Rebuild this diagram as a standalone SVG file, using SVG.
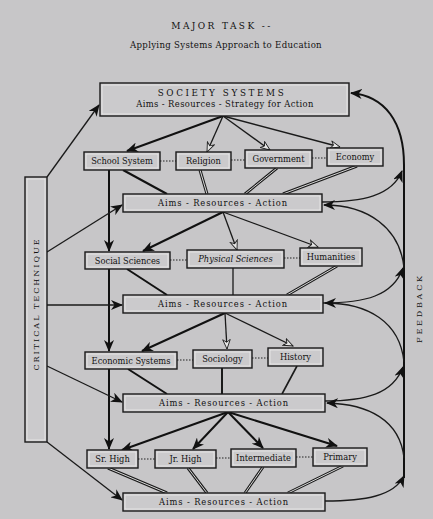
<svg xmlns="http://www.w3.org/2000/svg" width="433" height="519" viewBox="0 0 433 519">
<defs>
<style>
.bg{fill:#c7c6c8}
.box{fill:#cbcacc;stroke:#1a1a1a;stroke-width:1.4}
.inner{fill:none;stroke:#ececec;stroke-width:0.8}
.t{font-family:"DejaVu Serif","Liberation Serif",serif;font-size:8.3px;fill:#111;text-anchor:middle}
.ln{fill:none;stroke:#1a1a1a;stroke-width:1.3}
.thk{fill:none;stroke:#111;stroke-width:2}
.dot{fill:none;stroke:#222;stroke-width:1.1;stroke-dasharray:1.5,1.5}
.dblo{fill:none;stroke:#1a1a1a;stroke-width:3}
.dbli{fill:none;stroke:#d8d8d8;stroke-width:1}
.arr{font-size:8.3px;letter-spacing:0.9px}
</style>
<marker id="blk" viewBox="0 0 12 10" refX="11" refY="5" markerWidth="12" markerHeight="10" markerUnits="userSpaceOnUse" orient="auto">
<path d="M0,0 L12,5 L0,10 L3.5,5 z" fill="#111"/>
</marker>
<marker id="opn" viewBox="0 0 12 10" refX="11" refY="5" markerWidth="11" markerHeight="9" markerUnits="userSpaceOnUse" orient="auto">
<path d="M0.5,0.8 L11,5 L0.5,9.2 L3.5,5 z" fill="#e6e6e6" stroke="#222" stroke-width="1"/>
</marker>
</defs>
<rect class="bg" x="0" y="0" width="433" height="519"/>

<g id="title">
<text class="t" x="222" y="29" style="font-size:9px;letter-spacing:2.4px">MAJOR TASK --</text>
<text class="t" x="226" y="48" style="font-size:8.6px;letter-spacing:0.3px">Applying Systems Approach to Education</text>
</g>

<g id="connectors">
<path class="thk" d="M223,116 L127,151" marker-end="url(#blk)"/>
<path class="ln" d="M223,116 L207,152" marker-end="url(#opn)"/>
<path class="ln" d="M223,116 L270,150" marker-end="url(#opn)"/>
<path class="ln" d="M223,116 L340,147" marker-end="url(#opn)"/>
<path class="dot" d="M160,161 L176,161 M231,160 L245,160 M312,158 L327,158"/>
<path class="thk" d="M123,170 L167,194"/>
<path class="dblo" d="M200,170 L207,194"/><path class="dbli" d="M200,170 L207,194"/>
<path class="dblo" d="M277,168 L245,194"/><path class="dbli" d="M277,168 L245,194"/>
<path class="dblo" d="M357,166 L283,194"/><path class="dbli" d="M357,166 L283,194"/>
<path class="thk" d="M223,212 L143,251" marker-end="url(#blk)"/>
<path class="ln" d="M223,212 L237,250" marker-end="url(#opn)"/>
<path class="ln" d="M223,212 L318,247" marker-end="url(#opn)"/>
<path class="dot" d="M170,260 L187,260 M284,258 L300,258"/>
<path class="thk" d="M127,269 L167,295"/>
<path class="ln" d="M233,268 L233,295"/>
<path class="dblo" d="M337,266 L287,295"/><path class="dbli" d="M337,266 L287,295"/>
<path class="thk" d="M225,313 L142,351" marker-end="url(#blk)"/>
<path class="ln" d="M225,313 L227,349" marker-end="url(#opn)"/>
<path class="ln" d="M225,313 L293,346" marker-end="url(#opn)"/>
<path class="dot" d="M177,360 L193,360 M252,358 L268,358"/>
<path class="thk" d="M128,369 L167,394"/>
<path class="ln" d="M222,368 L222,394" style="stroke-width:2"/>
<path class="ln" d="M297,366 L282,394" style="stroke-width:1.6"/>
<path class="thk" d="M228,412 L122,450" marker-end="url(#blk)"/>
<path class="thk" d="M228,412 L193,449" marker-end="url(#blk)"/>
<path class="thk" d="M228,412 L263,448" marker-end="url(#blk)"/>
<path class="thk" d="M228,412 L337,446" marker-end="url(#blk)"/>
<path class="dot" d="M138,459 L155,459 M216,458 L231,458 M296,457 L313,457"/>
<path class="dblo" d="M108,468 L167,493"/><path class="dbli" d="M108,468 L167,493"/>
<path class="dblo" d="M188,468 L207,493"/><path class="dbli" d="M188,468 L207,493"/>
<path class="dblo" d="M263,467 L245,493"/><path class="dbli" d="M263,467 L245,493"/>
<path class="dblo" d="M343,466 L288,493"/><path class="dbli" d="M343,466 L288,493"/>
<path class="thk" d="M109,170 L109,251" marker-end="url(#blk)"/>
<path class="thk" d="M109,269 L109,351" marker-end="url(#blk)"/>
<path class="thk" d="M109,369 L109,449" marker-end="url(#blk)"/>
<path class="ln" d="M47,177 L99,105" marker-end="url(#blk)"/>
<path class="ln" d="M47,252 L122,205" marker-end="url(#blk)"/>
<path class="ln" d="M47,305 L122,305" marker-end="url(#blk)"/>
<path class="ln" d="M47,366 L122,402" marker-end="url(#blk)"/>
<path class="ln" d="M47,442 L122,500" marker-end="url(#blk)"/>
<path class="thk" d="M404,478 L404,165 C404,122 385,96 351,93" marker-end="url(#blk)"/>
<path class="ln" d="M322,202 C362,202 392,196 402,171" marker-end="url(#blk)"/>
<path class="ln" d="M404,268 C400,228 368,205 324,205" marker-end="url(#blk)"/>
<path class="ln" d="M323,303 C365,303 393,296 403,268" marker-end="url(#blk)"/>
<path class="ln" d="M404,362 C400,322 368,303 325,303" marker-end="url(#blk)"/>
<path class="ln" d="M325,401 C365,401 393,394 403,367" marker-end="url(#blk)"/>
<path class="ln" d="M404,458 C400,420 368,404 327,403" marker-end="url(#blk)"/>
<path class="ln" d="M325,501 C365,501 394,496 404,476" marker-end="url(#blk)"/>
</g>

<g id="society">
<rect class="box" x="100" y="83" width="249" height="33"/>
<rect class="inner" x="102" y="85" width="245" height="29"/>
<text class="t" x="222" y="96" style="font-size:8.8px;letter-spacing:2.6px">SOCIETY SYSTEMS</text>
<text class="t" x="225" y="107" style="font-size:8.4px;letter-spacing:0.4px">Aims - Resources - Strategy for Action</text>
</g>

<g id="school-system"><rect class="box" x="84" y="152" width="76" height="18"/><rect class="inner" x="86" y="154" width="72" height="14"/><text class="t" x="122" y="164">School System</text></g>
<g id="religion"><rect class="box" x="176" y="152" width="55" height="18"/><rect class="inner" x="178" y="154" width="51" height="14"/><text class="t" x="203.5" y="164">Religion</text></g>
<g id="government"><rect class="box" x="245" y="150" width="67" height="18"/><rect class="inner" x="247" y="152" width="63" height="14"/><text class="t" x="278.5" y="162">Government</text></g>
<g id="economy"><rect class="box" x="327" y="148" width="56" height="18"/><rect class="inner" x="329" y="150" width="52" height="14"/><text class="t" x="355" y="160">Economy</text></g>

<g id="aims1"><rect class="box" x="123" y="194" width="199" height="18"/><rect class="inner" x="125" y="196" width="195" height="14"/><text class="t arr" x="223" y="206">Aims - Resources - Action</text></g>

<g id="social-sciences"><rect class="box" x="85" y="252" width="85" height="17"/><rect class="inner" x="87" y="254" width="81" height="13"/><text class="t" x="127.5" y="263.5">Social Sciences</text></g>
<g id="physical-sciences"><rect class="box" x="187" y="250" width="97" height="18"/><rect class="inner" x="189" y="252" width="93" height="14"/><text class="t" x="235.5" y="262" style="font-style:italic">Physical Sciences</text></g>
<g id="humanities"><rect class="box" x="300" y="248" width="62" height="18"/><rect class="inner" x="302" y="250" width="58" height="14"/><text class="t" x="331" y="260">Humanities</text></g>

<g id="aims2"><rect class="box" x="123" y="295" width="200" height="18"/><rect class="inner" x="125" y="297" width="196" height="14"/><text class="t arr" x="223" y="307">Aims - Resources - Action</text></g>

<g id="economic-systems"><rect class="box" x="85" y="352" width="92" height="17"/><rect class="inner" x="87" y="354" width="88" height="13"/><text class="t" x="131" y="363.5">Economic Systems</text></g>
<g id="sociology"><rect class="box" x="193" y="350" width="59" height="18"/><rect class="inner" x="195" y="352" width="55" height="14"/><text class="t" x="222.5" y="362">Sociology</text></g>
<g id="history"><rect class="box" x="268" y="348" width="55" height="18"/><rect class="inner" x="270" y="350" width="51" height="14"/><text class="t" x="295.5" y="360">History</text></g>

<g id="aims3"><rect class="box" x="123" y="394" width="202" height="18"/><rect class="inner" x="125" y="396" width="198" height="14"/><text class="t arr" x="224" y="406">Aims - Resources - Action</text></g>

<g id="sr-high"><rect class="box" x="87" y="450" width="51" height="18"/><rect class="inner" x="89" y="452" width="47" height="14"/><text class="t" x="112.5" y="462">Sr. High</text></g>
<g id="jr-high"><rect class="box" x="155" y="450" width="61" height="18"/><rect class="inner" x="157" y="452" width="57" height="14"/><text class="t" x="185.5" y="462">Jr. High</text></g>
<g id="intermediate"><rect class="box" x="231" y="449" width="65" height="18"/><rect class="inner" x="233" y="451" width="61" height="14"/><text class="t" x="263.5" y="461">Intermediate</text></g>
<g id="primary"><rect class="box" x="313" y="448" width="54" height="18"/><rect class="inner" x="315" y="450" width="50" height="14"/><text class="t" x="340" y="460">Primary</text></g>

<g id="aims4"><rect class="box" x="123" y="493" width="202" height="18"/><rect class="inner" x="125" y="495" width="198" height="14"/><text class="t arr" x="224" y="505">Aims - Resources - Action</text></g>

<g id="critical-technique">
<rect class="box" x="25" y="177" width="22" height="265"/>
<rect class="inner" x="27" y="179" width="18" height="261"/>
<text class="t" transform="translate(39,304) rotate(-90)" style="font-size:8px;letter-spacing:2px">CRITICAL TECHNIQUE</text>
</g>

<g id="feedback">
<text class="t" transform="translate(422,308) rotate(-90)" style="font-size:8px;letter-spacing:2.8px">FEEDBACK</text>
</g>
</svg>
